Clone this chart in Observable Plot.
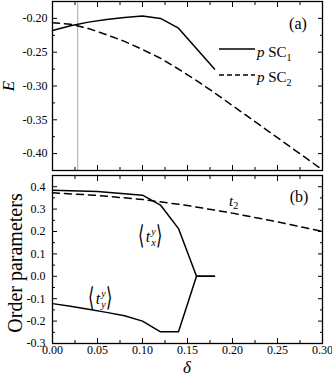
<!DOCTYPE html>
<html><head><meta charset="utf-8">
<script src="https://cdn.jsdelivr.net/npm/d3@7"></script>
<script src="https://cdn.jsdelivr.net/npm/@observablehq/plot@0.6"></script>
<style>
body{margin:0;background:#fff;}
#chart{position:relative;width:332px;height:382px;overflow:hidden;}
#chart svg{display:block;}
</style></head><body><div id="chart"></div>
<script>
// ---- data ----
const sc1Delta = [0, 0.02, 0.04, 0.06, 0.08, 0.10, 0.12, 0.14, 0.18];
const sc1E     = [-0.218, -0.211, -0.2055, -0.2015, -0.1985, -0.1965, -0.200, -0.2145, -0.275];
const sc2Delta = [0, 0.02, 0.04, 0.06, 0.08, 0.10, 0.12, 0.14, 0.16, 0.18, 0.20, 0.22, 0.24, 0.26, 0.28, 0.30];
const sc2E     = [-0.2065, -0.2085, -0.215, -0.224, -0.234, -0.246, -0.259, -0.275, -0.292, -0.310, -0.329, -0.348, -0.367, -0.386, -0.405, -0.424];
const markerDelta = [0.028];

const txDelta = [0, 0.05, 0.10, 0.12, 0.14, 0.16, 0.18];
const txVal   = [0.384, 0.379, 0.362, 0.318, 0.213, 0.0, 0.0];
const tyDelta = [0, 0.02, 0.04, 0.06, 0.08, 0.10, 0.12, 0.14, 0.16, 0.18];
const tyVal   = [-0.122, -0.134, -0.147, -0.161, -0.176, -0.200, -0.248, -0.248, 0.0, 0.0];
const t2Delta = [0, 0.05, 0.10, 0.15, 0.20, 0.25, 0.30];
const t2Val   = [0.373, 0.361, 0.343, 0.316, 0.282, 0.243, 0.200];

const xTicks      = [0, 0.05, 0.10, 0.15, 0.20, 0.25, 0.30];
const xMinorTicks = [0.025, 0.075, 0.125, 0.175, 0.225, 0.275];
const eTicks      = [-0.40, -0.35, -0.30, -0.25, -0.20];
const eMinorTicks = [-0.425, -0.375, -0.325, -0.275, -0.225, -0.175];
const oTicks      = [-0.3, -0.2, -0.1, 0.0, 0.1, 0.2, 0.3, 0.4];
const oMinorTicks = [-0.25, -0.15, -0.05, 0.05, 0.15, 0.25, 0.35, 0.45];

const zip = (xs, ys) => xs.map((x, i) => ({x, y: ys[i]}));
const serif = '"Liberation Serif", "Times New Roman", serif';

function inward(axisFn, anchors, values, size) {
  return anchors.map(a => axisFn({
    ticks: values, anchor: a, tickSize: size, fill: "none", label: null,
    stroke: "black", strokeWidth: 1,
    ...(a === "bottom" ? {dy: -size} : a === "top" ? {dy: size} : a === "left" ? {dx: size} : {dx: -size})
  }));
}

const style = {fontFamily: serif, fontSize: "12px", color: "black", background: "white", overflow: "visible"};
const xDomain = [0, 0.3];

// ---- top panel ----
const topPlot = Plot.plot({
  width: 332, height: 172,
  marginLeft: 52, marginRight: 10, marginTop: 1, marginBottom: 2,
  style,
  x: {domain: xDomain},
  y: {domain: [-0.425, -0.175]},
  marks: [
    Plot.ruleX(markerDelta, {stroke: "#aaaaaa", strokeWidth: 1}),
    Plot.line(zip(sc2Delta, sc2E), {x: "x", y: "y", stroke: "black", strokeWidth: 1.5, strokeDasharray: "7,5"}),
    Plot.line(zip(sc1Delta, sc1E), {x: "x", y: "y", stroke: "black", strokeWidth: 1.5}),
    ...inward(Plot.axisX, ["top", "bottom"], xTicks, 5),
    ...inward(Plot.axisX, ["top", "bottom"], xMinorTicks, 3),
    ...inward(Plot.axisY, ["left", "right"], eTicks, 5),
    ...inward(Plot.axisY, ["left", "right"], eMinorTicks, 3),
    Plot.axisY({ticks: eTicks, anchor: "left", tickSize: 0, tickPadding: 5, tickFormat: d => d.toFixed(2), fontSize: 12, label: null}),
    Plot.frame({stroke: "black", strokeWidth: 1.3})
  ]
});

// ---- bottom panel ----
const bottomPlot = Plot.plot({
  width: 332, height: 210,
  marginLeft: 52, marginRight: 10, marginTop: 3, marginBottom: 39,
  style,
  x: {domain: xDomain},
  y: {domain: [-0.3, 0.45]},
  marks: [
    Plot.line(zip(t2Delta, t2Val), {x: "x", y: "y", stroke: "black", strokeWidth: 1.5, strokeDasharray: "7,5"}),
    Plot.line(zip(txDelta, txVal), {x: "x", y: "y", stroke: "black", strokeWidth: 1.5}),
    Plot.line(zip(tyDelta, tyVal), {x: "x", y: "y", stroke: "black", strokeWidth: 1.5}),
    ...inward(Plot.axisX, ["top", "bottom"], xTicks, 5),
    ...inward(Plot.axisX, ["top", "bottom"], xMinorTicks, 3),
    ...inward(Plot.axisY, ["left", "right"], oTicks, 5),
    ...inward(Plot.axisY, ["left", "right"], oMinorTicks, 3),
    Plot.axisY({ticks: oTicks, anchor: "left", tickSize: 0, tickPadding: 7, tickFormat: d => d.toFixed(1), fontSize: 12, label: null}),
    Plot.axisX({ticks: xTicks, anchor: "bottom", tickSize: 0, tickPadding: 2, tickFormat: d => d.toFixed(2), fontSize: 12, label: null}),
    Plot.frame({stroke: "black", strokeWidth: 1.3})
  ]
});

const chart = document.getElementById("chart");
chart.appendChild(topPlot);
chart.appendChild(bottomPlot);

// ---- annotations ----
function addText(svg, x, y, parts, opts = {}) {
  const t = d3.select(svg).append("text")
    .attr("x", x).attr("y", y)
    .attr("font-family", serif).attr("font-size", opts.size || 15)
    .attr("fill", "black").attr("text-anchor", opts.anchor || "start");
  if (opts.rotate) t.attr("transform", `rotate(${opts.rotate},${x},${y})`);
  parts.forEach(p => {
    const s = t.append("tspan").text(p.text);
    if (p.italic) s.attr("font-style", "italic");
    if (p.size) s.attr("font-size", p.size);
    if (p.dy) s.attr("dy", p.dy);
  });
  return t;
}
function bracket(svg, x, y, sup, sub) {
  const g = d3.select(svg).append("g").attr("transform", `translate(${x},${y})`)
    .attr("font-family", serif).attr("fill", "black");
  g.append("text").attr("transform", "translate(0,2) scale(0.75,1.2)").attr("font-size", 22).text("⟨");
  g.append("text").attr("x", 7).attr("y", 0).attr("font-size", 16).attr("font-style", "italic").text("t");
  g.append("text").attr("x", 12.5).attr("y", -7).attr("font-size", 10).attr("font-style", "italic").text(sup);
  g.append("text").attr("x", 12.5).attr("y", 4).attr("font-size", 10).attr("font-style", "italic").text(sub);
  g.append("text").attr("transform", "translate(18,2) scale(0.75,1.2)").attr("font-size", 22).text("⟩");
}

// top labels
addText(topPlot, 14, 86, [{text: "E", italic: true}], {size: 17, anchor: "middle", rotate: -90});
addText(topPlot, 298, 29, [{text: "(a)"}], {size: 16, anchor: "middle"});
d3.select(topPlot).append("line").attr("x1", 219).attr("x2", 255).attr("y1", 49).attr("y2", 49)
  .attr("stroke", "black").attr("stroke-width", 1.5);
d3.select(topPlot).append("line").attr("x1", 219).attr("x2", 255).attr("y1", 75).attr("y2", 75)
  .attr("stroke", "black").attr("stroke-width", 1.5).attr("stroke-dasharray", "5,3");
addText(topPlot, 257, 57, [{text: "p", italic: true}, {text: " SC"}, {text: "1", size: 10, dy: 4}], {size: 15});
addText(topPlot, 257, 82, [{text: "p", italic: true}, {text: " SC"}, {text: "2", size: 10, dy: 4}], {size: 15});

// bottom labels
addText(bottomPlot, 22, 91, [{text: "Order parameters"}], {size: 20, anchor: "middle", rotate: -90});
addText(bottomPlot, 187, 201, [{text: "δ", italic: true}], {size: 17, anchor: "middle"});
addText(bottomPlot, 299, 30, [{text: "(b)"}], {size: 16, anchor: "middle"});
addText(bottomPlot, 229, 34, [{text: "t", italic: true}, {text: "2", size: 10, dy: 3}], {size: 15});
bracket(bottomPlot, 141, 70, "y", "x");
bracket(bottomPlot, 91, 132, "y", "y");
</script></body></html>
